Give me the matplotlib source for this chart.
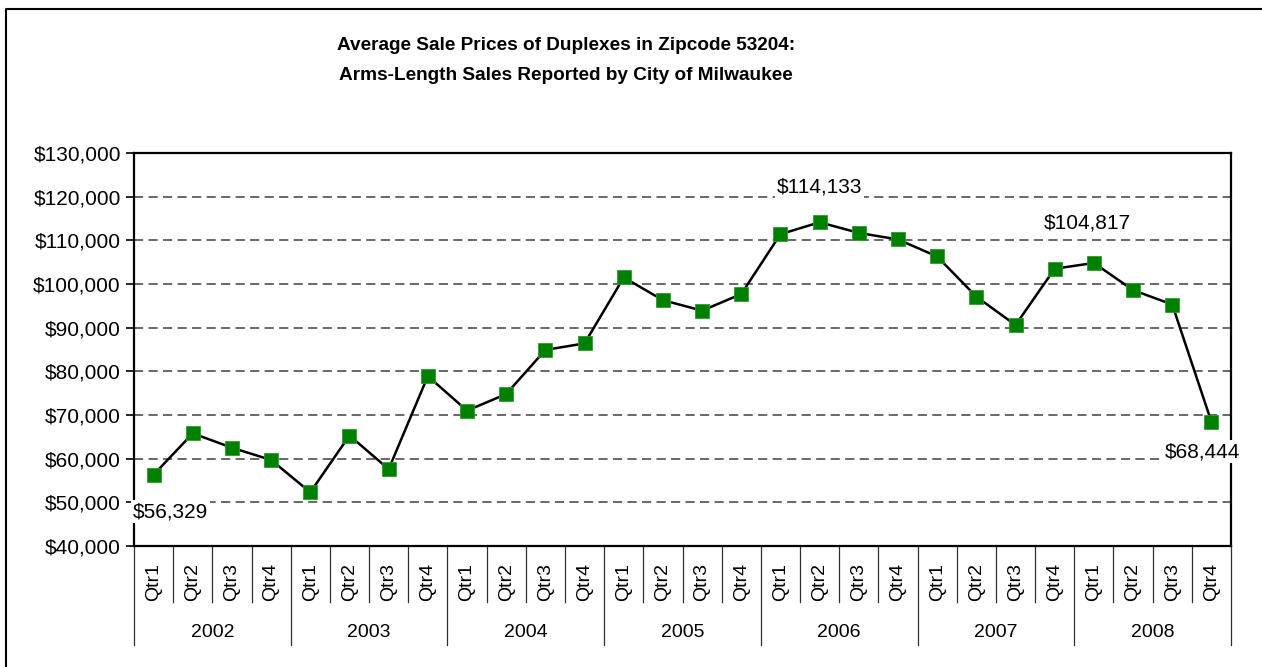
import matplotlib
matplotlib.use('Agg')
import matplotlib.pyplot as plt
import matplotlib.transforms as mtransforms
from matplotlib.lines import Line2D
from matplotlib.ticker import FuncFormatter

plt.rcParams['font.family'] = ['Liberation Sans', 'DejaVu Sans']

# data
years = ['2002', '2003', '2004', '2005', '2006', '2007', '2008']
quarters = ['Qtr1', 'Qtr2', 'Qtr3', 'Qtr4']
prices = [56329, 65800, 62500, 59700,
          52300, 65300, 57600, 78900,
          71000, 74800, 84900, 86400,
          101500, 96300, 93900, 97700,
          111400, 114133, 111700, 110200,
          106300, 97100, 90600, 103500,
          104817, 98600, 95300, 68444]
# index of labelled points and their text offsets (pixels)
labelled = {0: (-21, -37, 'left'), 17: (0, 35, 'center'),
            24: (-7, 40, 'center'), 27: (-9, -30, 'center')}

W, H = 1262, 667
fig = plt.figure(figsize=(W / 100, H / 100), dpi=100)
ax = fig.add_axes([134 / W, 1 - 546 / H, (1231 - 134) / W, (546 - 153) / H])

n = len(prices)
x = list(range(n))
ax.plot(x, prices, color='black', lw=1.8, zorder=3,
        marker='s', markersize=10, markerfacecolor='#008000',
        markeredgecolor='#2e9a2e', markeredgewidth=0.6)

ax.set_xlim(-0.5, n - 0.5)
ax.set_ylim(40000, 130000)
ax.set_yticks(range(40000, 130001, 10000))
ax.yaxis.set_major_formatter(FuncFormatter(lambda v, p: '${:,.0f}'.format(v)))
ax.tick_params(axis='y', labelsize=15, length=6, width=1.2, direction='out')
ax.set_xticks([])

for v in range(50000, 130000, 10000):
    ax.axhline(v, color='#404040', lw=1.1, dashes=(6, 3.5), zorder=1)

for s in ax.spines.values():
    s.set_linewidth(1.6)

# category axis: quarters and years
trans = mtransforms.blended_transform_factory(ax.transData, ax.transAxes)
for i in range(n):
    ax.text(i, -0.043, quarters[i % 4], transform=trans, rotation=90,
            ha='center', va='top', fontsize=14)
for k in range(n + 1):
    bottom = -0.252 if k % 4 == 0 else -0.1425
    ax.plot([k - 0.5, k - 0.5], [0, bottom], transform=trans,
            color='#303030', lw=0.9, clip_on=False)
for j, yr in enumerate(years):
    ax.text(j * 4 + 1.5, -0.219, yr, transform=trans,
            ha='center', va='center', fontsize=14)

for i, (dx, dy, ha) in labelled.items():
    ax.annotate('${:,.0f}'.format(prices[i]), (i, prices[i]),
                xytext=(dx, dy), textcoords='offset pixels',
                ha=ha, va='center', fontsize=15, zorder=5,
                annotation_clip=False,
                bbox=dict(boxstyle='square,pad=0.1', fc='white', ec='none'))

fig.text(566 / W, 1 - 45 / H, 'Average Sale Prices of Duplexes in Zipcode 53204:',
         ha='center', va='center', fontsize=13.7, fontweight='bold')
fig.text(566 / W, 1 - 76 / H, 'Arms-Length Sales Reported by City of Milwaukee',
         ha='center', va='center', fontsize=13.7, fontweight='bold')

# outer chart frame (left and top edges visible)
fig.add_artist(Line2D([6 / W, 6 / W, 1], [0, 1 - 9 / H, 1 - 9 / H],
                      transform=fig.transFigure, color='black', lw=1.5))

fig.savefig('out.png', dpi=100)
